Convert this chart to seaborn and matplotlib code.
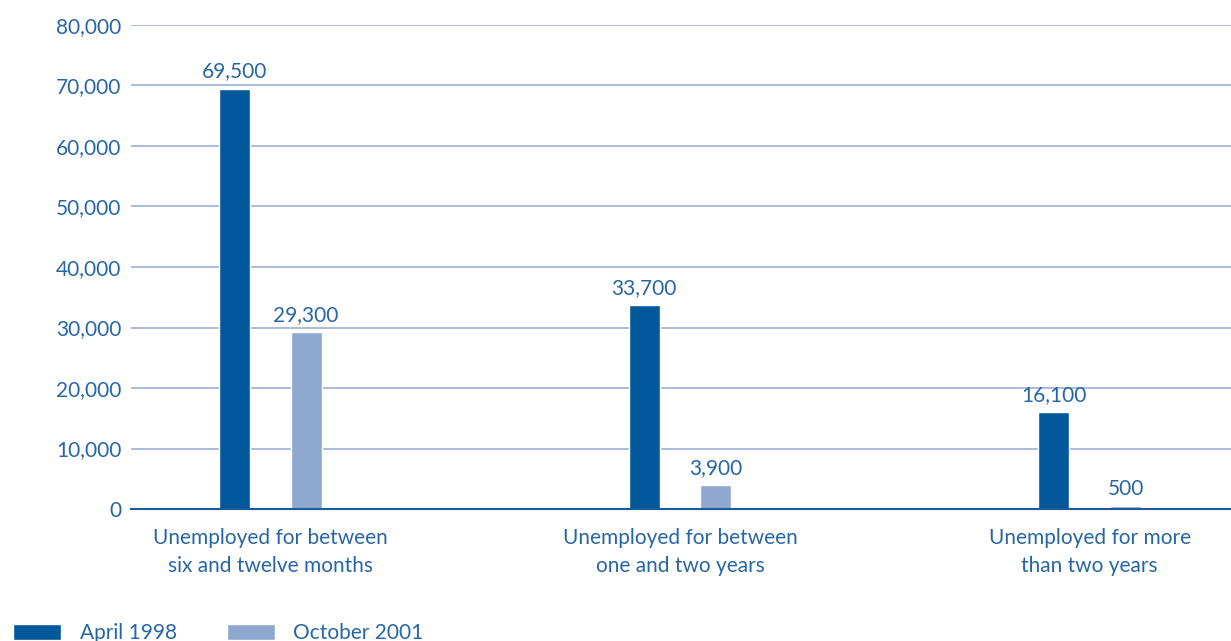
import matplotlib
matplotlib.use("Agg")
import matplotlib.pyplot as plt
import pandas as pd
import seaborn as sns

# Long-term unemployment counts by duration
categories = [
    "Unemployed for between\nsix and twelve months",
    "Unemployed for between\none and two years",
    "Unemployed for more\nthan two years",
]
april_1998 = [69500, 33700, 16100]
october_2001 = [29300, 3900, 500]
series_names = ["April 1998", "October 2001"]
y_ticks = [0, 10000, 20000, 30000, 40000, 50000, 60000, 70000, 80000]

DARK = "#03589b"
LIGHT = "#8ea8cf"
TEXT = "#2766a6"
GRID = "#a9bcda"
FS = 15

df = pd.DataFrame({
    "category": categories * 2,
    "period": [series_names[0]] * 3 + [series_names[1]] * 3,
    "count": april_1998 + october_2001,
})

sns.set_theme(style="white")
plt.rcParams["font.family"] = ["Lato", "DejaVu Sans"]

fig = plt.figure(figsize=(12.31, 6.41), dpi=100)
ax = fig.add_axes([131 / 1231, 1 - 509 / 641, 1 - 131 / 1231, (509 - 25) / 641])

sns.barplot(
    data=df, x="category", y="count", hue="period",
    order=categories, hue_order=series_names,
    palette=[DARK, LIGHT], width=0.35, gap=0.57,
    saturation=1, ax=ax, legend=True,
)

ax.set_xlim(-0.34, 2.345)
ax.set_ylim(0, 80000)
ax.set_yticks(y_ticks)
ax.set_yticklabels([f"{v:,}" for v in y_ticks])
ax.set_xlabel("")
ax.set_ylabel("")

ax.yaxis.grid(True, color=GRID, linewidth=1.4)
ax.set_axisbelow(True)
for side in ("left", "right", "top"):
    ax.spines[side].set_visible(False)
ax.spines["bottom"].set_color("#1d5a9a")
ax.spines["bottom"].set_linewidth(1.5)

ax.tick_params(axis="both", length=0, labelsize=FS, labelcolor=TEXT)
ax.tick_params(axis="y", pad=7)
ax.tick_params(axis="x", pad=14)
for lbl in ax.get_xticklabels():
    lbl.set_linespacing(1.5)

for cont in ax.containers:
    ax.bar_label(cont, labels=[f"{v:,.0f}" for v in cont.datavalues],
                 padding=5, fontsize=FS, color=TEXT)

handles, labels = ax.get_legend_handles_labels()
ax.get_legend().remove()
fig.legend(
    handles, labels, loc="center left", bbox_to_anchor=(13 / 1231, 1 - 633 / 641),
    ncol=2, frameon=False, fontsize=FS, labelcolor=TEXT,
    handlelength=2.3, handleheight=0.8, handletextpad=0.9,
    columnspacing=2.4, borderpad=0, borderaxespad=0,
)

fig.savefig("out.png", dpi=100)
